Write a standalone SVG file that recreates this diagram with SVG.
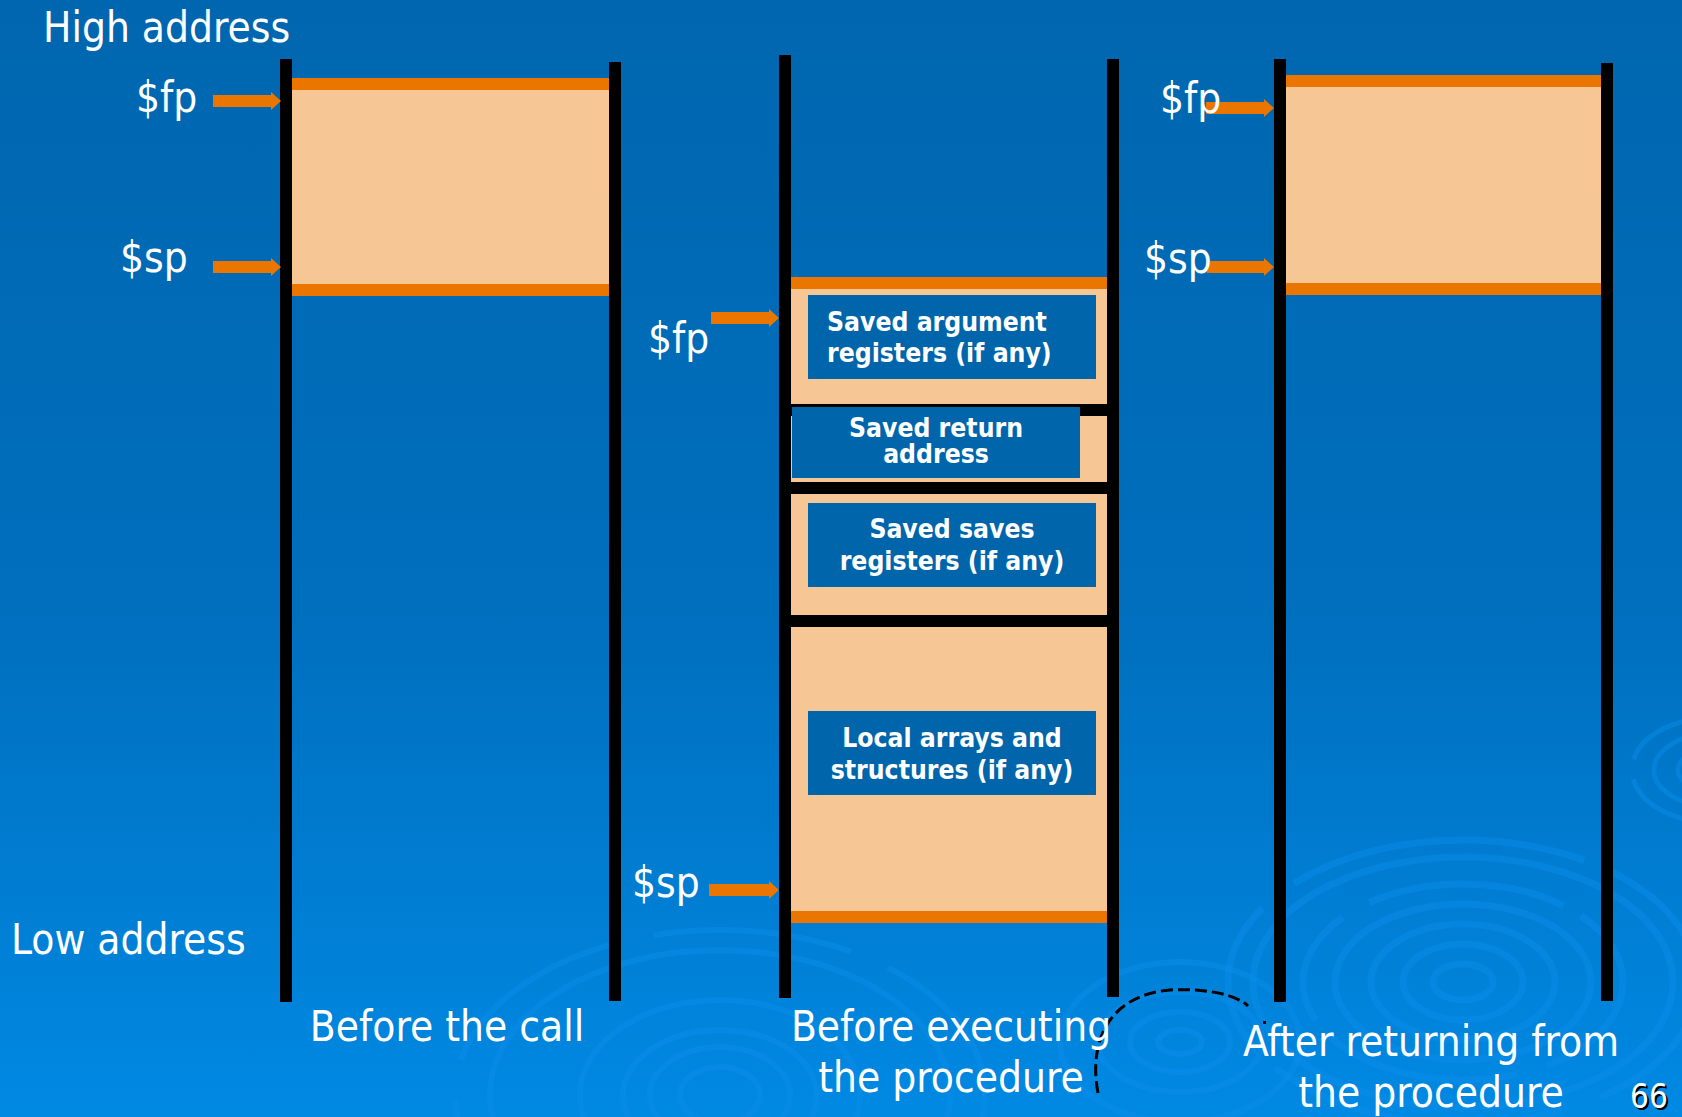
<svg xmlns="http://www.w3.org/2000/svg" width="1682" height="1117" viewBox="0 0 1682 1117">
  <defs>
    <linearGradient id="bg" x1="0" y1="0" x2="0" y2="1">
      <stop offset="0" stop-color="#0066AF"/>
      <stop offset="0.55" stop-color="#006FBE"/>
      <stop offset="1" stop-color="#0089E3"/>
    </linearGradient>
    <marker id="head" viewBox="0 0 10 18" refX="0" refY="9" markerWidth="10" markerHeight="18" markerUnits="userSpaceOnUse" orient="auto">
      <path d="M0,0 L10,9 L0,18 z" fill="#EA7600"/>
    </marker>
    <style>
      .rail { fill: #000; }
      .band { fill: #000; }
      .cap { fill: #EA7600; }
      .frame { fill: #F6C695; }
      .box { fill: #0065AB; }
      .lbl { font-family: "DejaVu Sans Condensed", "DejaVu Sans", sans-serif; font-stretch: condensed; font-size: 42px; fill: #fff; }
      .in { font-family: "DejaVu Sans Condensed", "DejaVu Sans", sans-serif; font-stretch: condensed; font-weight: bold; font-size: 26.3px; fill: #fff; }
      .mid { text-anchor: middle; }
      .ptr { stroke: #EA7600; stroke-width: 12; fill: none; marker-end: url(#head); }
      .ring { fill: none; stroke: #0A8FEC; stroke-opacity: 0.45; }
    </style>
  </defs>

  <!-- slide background -->
  <rect width="1682" height="1117" fill="url(#bg)"/>

  <!-- water ripple decoration -->
  <g id="ripples">
    <g stroke-width="7">
      <ellipse class="ring" cx="1463" cy="982" rx="235" ry="142" stroke-dasharray="160 40 300 25"/>
      <ellipse class="ring" cx="1463" cy="982" rx="210" ry="125"/>
      <ellipse class="ring" cx="1463" cy="982" rx="160" ry="98" stroke-dasharray="120 30 200 20"/>
      <ellipse class="ring" cx="1463" cy="982" rx="128" ry="78"/>
      <ellipse class="ring" cx="1463" cy="982" rx="92" ry="58"/>
      <ellipse class="ring" cx="1463" cy="982" rx="60" ry="38"/>
      <ellipse class="ring" cx="1463" cy="982" rx="30" ry="18"/>
    </g>
    <g stroke-width="6">
      <ellipse class="ring" cx="720" cy="1095" rx="265" ry="165" stroke-dasharray="200 40"/>
      <ellipse class="ring" cx="720" cy="1095" rx="230" ry="145"/>
      <ellipse class="ring" cx="720" cy="1095" rx="140" ry="95"/>
      <ellipse class="ring" cx="720" cy="1095" rx="97" ry="65" stroke="#0070C0" stroke-opacity="0.5"/>
      <ellipse class="ring" cx="720" cy="1095" rx="70" ry="48"/>
      <ellipse class="ring" cx="720" cy="1095" rx="40" ry="28" stroke="#0070C0" stroke-opacity="0.5"/>
    </g>
    <g stroke-width="6">
      <ellipse class="ring" cx="1180" cy="1042" rx="120" ry="80"/>
      <ellipse class="ring" cx="1180" cy="1042" rx="82" ry="50" stroke="#0076C8" stroke-opacity="0.6"/>
      <ellipse class="ring" cx="1180" cy="1042" rx="50" ry="30"/>
      <ellipse class="ring" cx="1180" cy="1042" rx="22" ry="12" stroke="#0076C8" stroke-opacity="0.6"/>
    </g>
    <g stroke-width="5">
      <ellipse class="ring" cx="1712" cy="770" rx="80" ry="52" stroke-dasharray="90 20"/>
      <ellipse class="ring" cx="1712" cy="770" rx="58" ry="36"/>
      <ellipse class="ring" cx="1712" cy="770" rx="34" ry="20"/>
    </g>
    <path d="M1098,1093 C1088,1040 1110,995 1170,990 C1210,988 1238,996 1248,1006" fill="none" stroke="#000" stroke-width="3" stroke-dasharray="12 5"/>
    <rect x="1263" y="1021" width="3" height="3" fill="#000"/>
  </g>

  <!-- stack before the call -->
  <g id="stack-before-call">
    <rect class="frame" x="280" y="90" width="329" height="194"/>
    <rect class="cap" x="292" y="78" width="317" height="12"/>
    <rect class="cap" x="292" y="284" width="317" height="12"/>
    <rect class="rail" x="280" y="59" width="12" height="943"/>
    <rect class="rail" x="609" y="62" width="12" height="939"/>
  </g>

  <!-- stack while the procedure runs -->
  <g id="stack-during-call">
    <rect class="cap" x="791" y="277" width="316" height="12"/>
    <rect class="frame" x="791" y="289" width="316" height="115"/>
    <rect class="band" x="791" y="404" width="316" height="12"/>
    <rect class="frame" x="791" y="416" width="316" height="66"/>
    <rect class="band" x="791" y="482" width="316" height="12"/>
    <rect class="frame" x="791" y="494" width="316" height="121"/>
    <rect class="band" x="791" y="615" width="316" height="12"/>
    <rect class="frame" x="791" y="627" width="316" height="284"/>
    <rect class="cap" x="791" y="911" width="316" height="12"/>
    <rect class="rail" x="779" y="55" width="12" height="943"/>
    <rect class="rail" x="1107" y="59" width="12" height="938"/>
  </g>

  <g id="saved-args">
    <rect class="box" x="808" y="295" width="288" height="84"/>
    <text class="in" x="827" y="331">Saved argument</text>
    <text class="in" x="827" y="362">registers (if any)</text>
  </g>
  <g id="saved-ra">
    <rect class="box" x="792" y="407" width="288" height="71"/>
    <text class="in mid" x="936" y="437">Saved return</text>
    <text class="in mid" x="936" y="463">address</text>
  </g>
  <g id="saved-regs">
    <rect class="box" x="808" y="503" width="288" height="84"/>
    <text class="in mid" x="952" y="538">Saved saves</text>
    <text class="in mid" x="952" y="570">registers (if any)</text>
  </g>
  <g id="locals">
    <rect class="box" x="808" y="711" width="288" height="84"/>
    <text class="in mid" x="952" y="747">Local arrays and</text>
    <text class="in mid" x="952" y="779">structures (if any)</text>
  </g>

  <!-- stack after returning -->
  <g id="stack-after-return">
    <rect class="frame" x="1286" y="87" width="315" height="196"/>
    <rect class="cap" x="1286" y="75" width="315" height="12"/>
    <rect class="cap" x="1286" y="283" width="315" height="12"/>
    <rect class="rail" x="1274" y="59" width="12" height="943"/>
    <rect class="rail" x="1601" y="63" width="12" height="938"/>
  </g>

  <!-- register pointers -->
  <g id="connectors">
    <line class="ptr" x1="213" y1="101" x2="271" y2="101"/>
    <line class="ptr" x1="213" y1="267" x2="271" y2="267"/>
    <line class="ptr" x1="711" y1="318" x2="769" y2="318"/>
    <line class="ptr" x1="709" y1="890" x2="769" y2="890"/>
    <line class="ptr" x1="1206" y1="108" x2="1264" y2="108"/>
    <line class="ptr" x1="1207" y1="267" x2="1264" y2="267"/>
  </g>

  <!-- register names and captions -->
  <g id="labels">
    <text class="lbl" x="43" y="42">High address</text>
    <text class="lbl" x="11" y="954">Low address</text>
    <text class="lbl" x="136" y="112">$fp</text>
    <text class="lbl" x="120" y="272">$sp</text>
    <text class="lbl" x="648" y="353">$fp</text>
    <text class="lbl" x="632" y="897">$sp</text>
    <text class="lbl" x="1160" y="113">$fp</text>
    <text class="lbl" x="1144" y="273">$sp</text>
    <text class="lbl mid" x="447" y="1041">Before the call</text>
    <text class="lbl mid" x="951" y="1041">Before executing</text>
    <text class="lbl mid" x="951" y="1092">the procedure</text>
    <text class="lbl mid" x="1431" y="1056">After returning from</text>
    <text class="lbl mid" x="1431" y="1107">the procedure</text>
  </g>

  <g id="page-number">
    <text class="lbl" x="1632" y="1110" style="font-size:33px;fill:#000">66</text>
    <text class="lbl" x="1630" y="1108" style="font-size:33px">66</text>
  </g>
</svg>
